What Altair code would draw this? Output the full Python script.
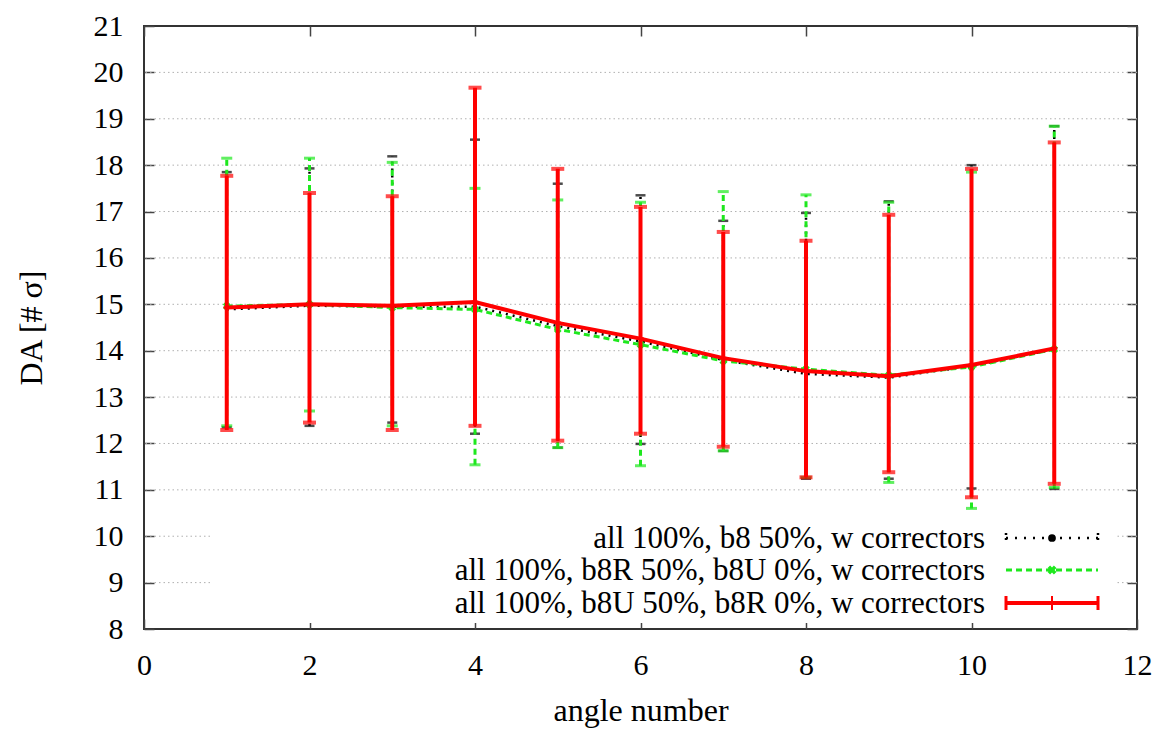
import altair as alt
import pandas as pd

# ---------------- data ----------------
angles = [1, 2, 3, 4, 5, 6, 7, 8, 9, 10, 11]

# all 100%, b8 50%, w correctors (black)
b8_center = [14.89, 14.97, 14.95, 14.95, 14.53, 14.20, 13.80, 13.50, 13.42, 13.67, 14.03]
b8_upper = [17.85, 17.93, 18.19, 18.55, 17.60, 17.35, 16.80, 16.97, 17.22, 18.00, 18.84]
b8_lower = [12.35, 12.38, 12.45, 12.21, 11.91, 11.99, 11.84, 11.24, 11.24, 11.03, 11.02]

# all 100%, b8R 50%, b8U 0%, w correctors (green)
b8r_center = [14.96, 15.00, 14.93, 14.89, 14.46, 14.13, 13.78, 13.60, 13.47, 13.65, 14.03]
b8r_upper = [18.15, 18.15, 18.06, 17.50, 17.25, 17.20, 17.43, 17.36, 17.20, 17.85, 18.84]
b8r_lower = [12.38, 12.70, 12.38, 11.54, 11.91, 11.52, 11.84, 11.27, 11.16, 10.60, 11.05]

# all 100%, b8U 50%, b8R 0%, w correctors (red)
b8u_center = [14.93, 15.00, 14.97, 15.05, 14.60, 14.26, 13.84, 13.56, 13.45, 13.69, 14.05]
b8u_upper = [17.77, 17.40, 17.33, 19.67, 17.92, 17.10, 16.56, 16.37, 16.93, 17.92, 18.49]
b8u_lower = [12.29, 12.45, 12.29, 12.38, 12.06, 12.21, 11.93, 11.27, 11.38, 10.84, 11.13]

legend_labels = [
    "all 100%, b8 50%, w correctors",
    "all 100%, b8R 50%, b8U 0%, w correctors",
    "all 100%, b8U 50%, b8R 0%, w correctors",
]

x_ticks = [0, 2, 4, 6, 8, 10, 12]
y_ticks = list(range(8, 22))
grid_levels = list(range(9, 21))

# ---------------- styling ----------------
FONT = "Liberation Serif"
FS_LABEL = 30
FS_TITLE = 32
FS_LEGEND = 31
W, H = 993, 603
BLACK, GREEN, RED = "#000000", "#1ee81e", "#ff0000"
TICK_C = "#444444"

xs = alt.Scale(domain=[0, 12], nice=False, zero=False)
ys = alt.Scale(domain=[8, 21], nice=False, zero=False)


def frame(c, lo, hi):
    return pd.DataFrame({"angle": angles, "c": c, "lo": lo, "hi": hi})


df_black = frame(b8_center, b8_lower, b8_upper)
df_green = frame(b8r_center, b8r_lower, b8r_upper)
df_red = frame(b8u_center, b8u_lower, b8u_upper)

common_axis = dict(offset=-10, tickSize=10, domain=False, grid=False,
                   tickColor=TICK_C, tickWidth=1.5, labelFont=FONT,
                   labelFontSize=FS_LABEL, labelColor="black", titleFont=FONT,
                   titleFontSize=FS_TITLE, titleFontWeight="normal", titleColor="black",
                   labelOverlap=False, labelFlush=False, labelBound=False)

axis_left = alt.Axis(orient="left", values=y_ticks, labelPadding=21,
                     title="DA [# σ]", titlePadding=45, **common_axis)
axis_right = alt.Axis(orient="right", values=y_ticks, labels=False,
                      title=None, **common_axis)
axis_bottom = alt.Axis(orient="bottom", values=x_ticks, labelPadding=21,
                       title="angle number", titlePadding=15, **common_axis)
axis_top = alt.Axis(orient="top", values=x_ticks, labels=False,
                    title=None, **common_axis)

# grid
grid = alt.Chart(pd.DataFrame({"v": grid_levels})).mark_rule(
    color="#b0b0b0", strokeWidth=1, strokeDash=[1.5, 3]
).encode(y=alt.Y("v:Q", scale=ys, axis=None))

# legend background (box of the key)
legend_bg = alt.Chart(pd.DataFrame({"k": [0]})).mark_rect(
    fill="white"
).encode(x=alt.value(66), x2=alt.value(971), y=alt.value(490), y2=alt.value(597))


def series(df, color, width, dash, cap, line_axes=None, shape=None, shape_size=30,
           shape_angle=0):
    layers = []
    xa = axis_bottom if line_axes == "lb" else (axis_top if line_axes == "rt" else None)
    ya = axis_left if line_axes == "lb" else (axis_right if line_axes == "rt" else None)
    base = alt.Chart(df)
    rule_kw = dict(color=color, strokeWidth=width)
    if dash:
        rule_kw["strokeDash"] = dash
    layers.append(base.mark_rule(**rule_kw).encode(
        x=alt.X("angle:Q", scale=xs, axis=None),
        y=alt.Y("lo:Q", scale=ys, axis=None), y2="hi:Q"))
    for fld in ["lo", "hi"]:
        layers.append(base.mark_tick(orient="horizontal", color=color, size=cap,
                                     thickness=width).encode(
            x=alt.X("angle:Q", scale=xs, axis=None),
            y=alt.Y(f"{fld}:Q", scale=ys, axis=None)))
    line_kw = dict(color=color, strokeWidth=width)
    if dash:
        line_kw["strokeDash"] = dash
    layers.append(base.mark_line(**line_kw).encode(
        x=alt.X("angle:Q", scale=xs, axis=xa),
        y=alt.Y("c:Q", scale=ys, axis=ya)))
    if shape:
        pk = dict(shape=shape, size=shape_size, color=color, filled=True, opacity=1)
        if shape_angle:
            pk["angle"] = shape_angle
        layers.append(base.mark_point(**pk).encode(
            x=alt.X("angle:Q", scale=xs, axis=None),
            y=alt.Y("c:Q", scale=ys, axis=None)))
    return layers


black_layers = series(df_black, BLACK, 2.5, [2, 5], 10, line_axes="lb",
                      shape="circle", shape_size=14)
green_layers = series(df_green, GREEN, 3, [6, 4], 11, line_axes="rt",
                      shape="cross", shape_size=60, shape_angle=45)
red_layers = series(df_red, RED, 4, None, 13, shape="cross", shape_size=40)

# ---------------- legend (drawn manually, gnuplot style) ----------------
LX_TEXT = 841
LX0, LX1 = 862, 954
LXM = (LX0 + LX1) / 2
rows_y = [512, 544, 577]

legend_layers = []
for lbl, ly in zip(legend_labels, rows_y):
    d = pd.DataFrame({"label": [lbl]})
    legend_layers.append(alt.Chart(d).mark_text(
        font=FONT, fontSize=FS_LEGEND, align="right", baseline="middle", color="black"
    ).encode(text="label:N", x=alt.value(LX_TEXT), y=alt.value(ly + 1)))

# black sample
d0 = pd.DataFrame({"label": [legend_labels[0]]})
legend_layers.append(alt.Chart(d0).mark_rule(color=BLACK, strokeWidth=2.5, strokeDash=[2, 7]).encode(
    x=alt.value(LX0), x2=alt.value(LX1), y=alt.value(rows_y[0])))
legend_layers.append(alt.Chart(d0).mark_point(shape="circle", filled=True, color=BLACK, size=60, opacity=1).encode(
    x=alt.value(LXM), y=alt.value(rows_y[0])))
for xe in [LX0, LX1]:
    legend_layers.append(alt.Chart(d0).mark_rule(color=BLACK, strokeWidth=2.5, strokeDash=[2, 3]).encode(
        x=alt.value(xe), y=alt.value(rows_y[0] - 5), y2=alt.value(rows_y[0] + 5)))
# green sample
d1 = pd.DataFrame({"label": [legend_labels[1]]})
legend_layers.append(alt.Chart(d1).mark_rule(color=GREEN, strokeWidth=3, strokeDash=[6, 4]).encode(
    x=alt.value(LX0), x2=alt.value(LX1), y=alt.value(rows_y[1])))
legend_layers.append(alt.Chart(d1).mark_point(shape="cross", angle=45, filled=True, color=GREEN, size=80, opacity=1).encode(
    x=alt.value(LXM), y=alt.value(rows_y[1])))
# red sample
d2 = pd.DataFrame({"label": [legend_labels[2]]})
legend_layers.append(alt.Chart(d2).mark_rule(color=RED, strokeWidth=4).encode(
    x=alt.value(LX0), x2=alt.value(LX1), y=alt.value(rows_y[2])))
for xe in [LX0, LXM, LX1]:
    legend_layers.append(alt.Chart(d2).mark_rule(color=RED, strokeWidth=3 if xe != LXM else 2).encode(
        x=alt.value(xe), y=alt.value(rows_y[2] - 7), y2=alt.value(rows_y[2] + 7)))

chart = alt.layer(
    grid, legend_bg, *black_layers, *green_layers, *red_layers, *legend_layers
).properties(
    width=W, height=H,
    padding={"left": 136, "top": 18, "right": 16, "bottom": 100},
    autosize=alt.AutoSizeParams(type="none"),
    background="white",
).configure_view(
    stroke="#333333", strokeWidth=2
)

chart.save("out.html", embed_options={"renderer": "svg", "actions": False})
